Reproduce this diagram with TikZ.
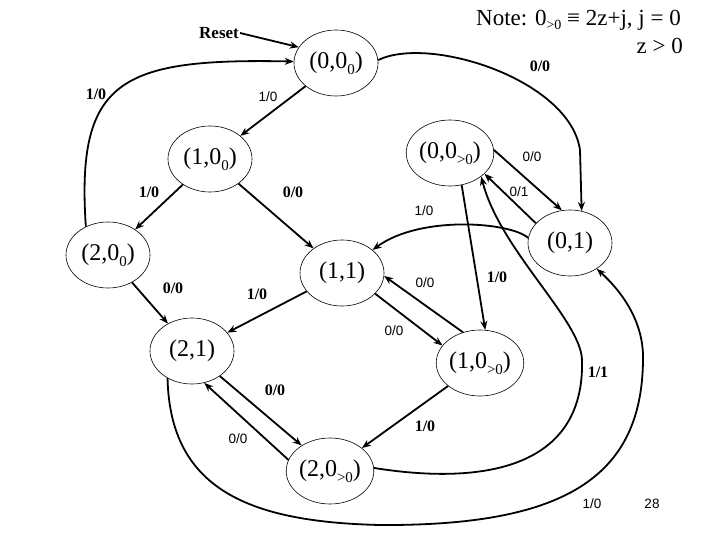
\documentclass[tikz,border=0pt]{standalone}
\usepackage{fontspec}
\setmainfont{Liberation Serif}
\newfontfamily\labsans{Liberation Sans}
\usetikzlibrary{shapes.geometric,arrows.meta}
% lowered small text for the state names and the note
\newcommand{\lsub}[1]{\raisebox{-6pt}{\fontsize{15}{15}\selectfont #1}}
\newcommand{\nsub}[1]{\raisebox{-4pt}{\fontsize{14}{14}\selectfont #1}}

\begin{document}
\begin{tikzpicture}[x=1pt,y=-1pt,
    stt/.style={draw,ellipse,line width=0.6pt,minimum width=84pt,minimum height=66pt,inner sep=0pt,font=\fontsize{24}{28}\selectfont},
    boldlab/.style={font=\fontsize{16}{18}\selectfont\bfseries,inner sep=0pt},
    thinlab/.style={font=\labsans\fontsize{13.5}{15}\selectfont,inner sep=0pt},
    conn/.style={line width=1.8pt,-{Stealth[length=9pt,width=7pt]}}]
    % page frame
    \fill[white] (0,0) rectangle (720,540);
    \useasboundingbox (0,0) rectangle (720,540);

    % states
    \node[stt] (n00) at (336,63) {(0,0\lsub{0})};
    \node[stt] (n10) at (210,159) {(1,0\lsub{0})};
    \node[stt] (n0p) at (450,153) {(0,0\lsub{>0})};
    \node[stt] (n20) at (108,255) {(2,0\lsub{0})};
    \node[stt] (n11) at (342,273) {(1,1)};
    \node[stt] (n01) at (570,243) {(0,1)};
    \node[stt] (n21) at (192,351) {(2,1)};
    \node[stt] (n1p) at (480,363) {(1,0\lsub{>0})};
    \node[stt] (n2p) at (330,471) {(2,0\lsub{>0})};

    % reset and note
    \node[font=\fontsize{17}{20}\selectfont\bfseries,inner sep=1pt] (reset) at (219,33) {Reset};
    \node[anchor=base east,font=\fontsize{23}{28}\selectfont,inner sep=0pt] (note1) at (681,26) {Note: 0\nsub{>0} ≡ 2z+j, j = 0};
    \node[anchor=base east,font=\fontsize{23}{28}\selectfont,inner sep=0pt] (note2) at (683,54) {z > 0};

    % transitions
    \draw[conn] (reset.east) -- (n00.157);
    \draw[conn] (n20.128) .. controls (76,80) and (120,58) .. (n00.178);
    \draw[conn] (n00) -- (n10);
    \draw[conn] (n10) -- (n20);
    \draw[conn] (n10) -- (n11);
    \draw[conn] (n00.4) .. controls (430,35) and (570,80) .. (580,150) -- (n01.70);
    \draw[conn] (n0p.4) -- (n01.104);
    \draw[conn] (n01.150) -- (n0p.-31);
    \draw[conn] (n01.173) .. controls (510,222) and (420,215) .. (n11.37);
    \draw[conn] (n0p.-70) -- (n1p.81);
    \draw[conn] (n20) -- (n21);
    \draw[conn] (n11) -- (n21);
    \draw[conn] (n11.-32) -- (n1p.155);
    \draw[conn] (n1p.119) -- (n11.-4);
    \draw[conn] (n2p.4) .. controls (480,485) and (585,470) .. (582,360) .. controls (581,320) and (500,250) .. (n0p.-37);
    \draw[conn] (n21.-42) -- (n2p.138);
    \draw[conn] (n2p.165) -- (n21.-69);
    \draw[conn] (n1p) -- (n2p);
    \draw[conn] (n21.-132) .. controls (170,490) and (250,522) .. (380,525) .. controls (560,526) and (642,480) .. (643,360) .. controls (644,320) and (620,290) .. (n01.-44);

    % input/output labels
    \node[boldlab] (l2000) at (96,94) {1/0};
    \node[thinlab] (l0010) at (268,97) {1/0};
    \node[boldlab] (l0001) at (540,66) {0/0};
    \node[boldlab] (l1020) at (149,192) {1/0};
    \node[boldlab] (l1011) at (293,192) {0/0};
    \node[thinlab] (l0p01) at (532,157) {0/0};
    \node[thinlab] (l010p) at (519,192) {0/1};
    \node[thinlab] (l0111) at (424,211) {1/0};
    \node[boldlab] (l2021) at (173,288) {0/0};
    \node[boldlab] (l1121) at (257,294) {1/0};
    \node[thinlab] (l1p11) at (425,283) {0/0};
    \node[boldlab] (l0p1p) at (497,277) {1/0};
    \node[thinlab] (l111p) at (394,331) {0/0};
    \node[boldlab] (l2p0p) at (598,372) {1/1};
    \node[boldlab] (l212p) at (275,390) {0/0};
    \node[thinlab] (l2p21) at (238,439) {0/0};
    \node[boldlab] (l1p2p) at (425,426) {1/0};
    \node[thinlab] (l2101) at (592,504) {1/0};
    \node[thinlab] (page) at (652,504) {28};
\end{tikzpicture}
\end{document}
